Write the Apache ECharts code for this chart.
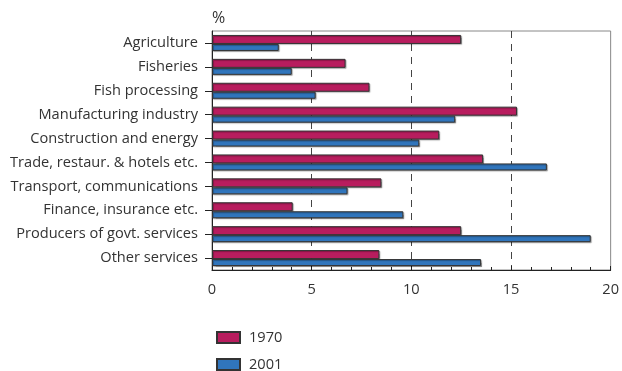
<!DOCTYPE html>
<html>
<head>
<meta charset="utf-8">
<script src="https://cdn.jsdelivr.net/npm/echarts@6/dist/echarts.min.js"></script>
<style>html,body{margin:0;padding:0;background:#fff}#c{width:622px;height:371px}</style>
</head>
<body>
<div id="c"></div>
<script>
const categories = ['Agriculture','Fisheries','Fish processing','Manufacturing industry','Construction and energy','Trade, restaur. & hotels etc.','Transport, communications','Finance, insurance etc.','Producers of govt. services','Other services'];
const values1970 = [12.5, 6.7, 7.9, 15.3, 11.4, 13.6, 8.5, 4.05, 12.5, 8.4];
const values2001 = [3.35, 4.0, 5.2, 12.2, 10.4, 16.8, 6.8, 9.6, 19.0, 13.5];
const seriesNames = ['1970', '2001'];
const xTicks = [0, 5, 10, 15, 20];

const FONT = 'Open Sans';
const FS = 14.6;
const legendBase = {
  orient: 'vertical', left: 211, itemWidth: 23, itemHeight: 11,
  icon: 'rect',
  textStyle: {fontSize: FS, color: '#333', fontFamily: FONT, padding: [0, 0, 0, 4]}
};
const chart = echarts.init(document.getElementById('c'));
chart.setOption({
  animation: false,
  textStyle: {fontFamily: FONT},
  title: {text: '%', left: 207, top: 5, textStyle: {fontSize: 16, fontWeight: 'normal', color: '#333', fontFamily: FONT}},
  grid: {left: 212, right: 9, top: 31, bottom: 101, show: true, borderColor: '#888', borderWidth: 1},
  legend: [
    Object.assign({}, legendBase, {top: 325, data: [seriesNames[0]]}),
    Object.assign({}, legendBase, {top: 352, data: [seriesNames[1]]})
  ],
  xAxis: {
    type: 'value', min: xTicks[0], max: xTicks[xTicks.length - 1], interval: 5,
    axisLine: {show: true, lineStyle: {color: '#222', width: 1}},
    axisTick: {show: true, inside: true, length: 4, lineStyle: {color: '#222'}},
    minorTick: {show: true, splitNumber: 5, length: 3, lineStyle: {color: '#222'}},
    axisLabel: {fontSize: FS, color: '#333', margin: 12, fontFamily: FONT},
    splitLine: {show: true, showMinLine: false, showMaxLine: false, lineStyle: {color: '#444', type: [7, 6], width: 1}}
  },
  yAxis: {
    type: 'category', inverse: true, data: categories,
    axisLine: {show: true, lineStyle: {color: '#222', width: 1}},
    axisTick: {show: true, alignWithLabel: true, length: 7, lineStyle: {color: '#222'}},
    axisLabel: {fontSize: FS, color: '#333', margin: 14, fontFamily: FONT},
    splitLine: {show: false}
  },
  series: [
    {name: seriesNames[0], type: 'bar', data: values1970, barWidth: 9, barGap: '0%',
     itemStyle: {color: '#B81D5E', borderColor: '#333', borderWidth: 1, shadowColor: 'rgba(0,0,0,0.3)', shadowOffsetX: 1, shadowOffsetY: 1, shadowBlur: 1}},
    {name: seriesNames[1], type: 'bar', data: values2001, barWidth: 7, barGap: '0%',
     itemStyle: {color: '#3075BC', borderColor: '#333', borderWidth: 1, shadowColor: 'rgba(0,0,0,0.3)', shadowOffsetX: 1, shadowOffsetY: 1, shadowBlur: 1}}
  ]
});
</script>
</body>
</html>
